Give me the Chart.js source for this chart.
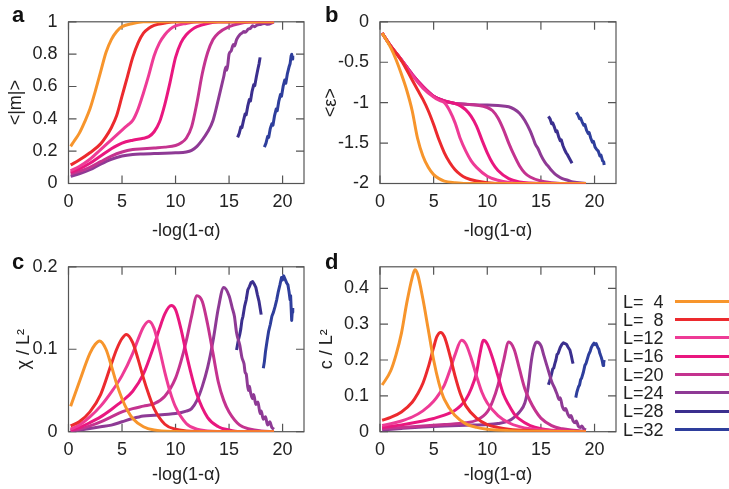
<!DOCTYPE html>
<html>
<head>
<meta charset="utf-8">
<script src="https://cdn.jsdelivr.net/npm/chart.js@4.4.1/dist/chart.umd.min.js"></script>
<style>
  body { margin: 0; background: #fff; width: 729px; height: 489px; overflow: hidden; position: relative;
         font-family: "Liberation Sans", Arial, sans-serif; }
  canvas { position: absolute; }
  .tag { position: absolute; font-weight: bold; font-size: 22px; line-height: 22px; color: #111; }
  .leg { position: absolute; left: 623px; font-size: 18px; line-height: 18px; white-space: pre; color: #222; }
  .legline { position: absolute; left: 675px; width: 60px; height: 3px; }
</style>
</head>
<body>
<canvas id="pa" width="330" height="245" style="left:0;top:0"></canvas>
<canvas id="pb" width="330" height="245" style="left:312px;top:0"></canvas>
<canvas id="pc" width="330" height="244" style="left:0;top:245px"></canvas>
<canvas id="pd" width="330" height="244" style="left:312px;top:245px"></canvas>
<div class="tag" style="left:12px;top:4px">a</div>
<div class="tag" style="left:325px;top:4px">b</div>
<div class="tag" style="left:12px;top:251px">c</div>
<div class="tag" style="left:325px;top:251px">d</div>
<div id="legend"></div>
<script>
// ---- labels / colours ----
const sizes = ['L=  4', 'L=  8', 'L=12', 'L=16', 'L=20', 'L=24', 'L=28', 'L=32'];
const colors = ['#f7952c', '#ec2a2e', '#ee3b96', '#e9177f', '#c4338f', '#8e3a95', '#3b2f8e', '#2e3e9c'];
const xTicks = [0, 5, 10, 15, 20];
const mTicks = [0, 0.2, 0.4, 0.6, 0.8, 1];
const epsTicks = [0, -0.5, -1, -1.5, -2];
const chiTicks = [0, 0.1, 0.2];
const cTicks = [0, 0.1, 0.2, 0.3, 0.4];

// ---- panel a : <|m|> ----
const m4 = [[0.2,.23],[0.5,.26],[1,.31],[1.5,.38],[2,.46],[2.5,.57],[3,.69],[3.5,.81],[4,.89],[4.5,.94],[5,.97],[6,.99],[7,1],[19.2,1]];
const m8 = [[0.2,.115],[1,.145],[2,.19],[3,.245],[3.5,.29],[4,.345],[4.5,.42],[5,.54],[5.5,.66],[6,.78],[6.5,.87],[7,.93],[7.5,.96],[8,.978],[9,.992],[10,1],[19.2,1]];
const m12 = [[0.2,.08],[1,.105],[2,.15],[3,.21],[4,.27],[5,.33],[5.5,.36],[6,.39],[6.5,.46],[7,.56],[7.5,.67],[8,.79],[8.5,.87],[9,.92],[9.5,.955],[10,.975],[11,.99],[12,1],[19.2,1]];
const m16 = [[0.2,.07],[1,.09],[2,.125],[3,.17],[4,.215],[5,.25],[6,.268],[7,.28],[7.5,.29],[8,.32],[8.5,.38],[9,.49],[9.5,.63],[10,.78],[10.5,.87],[11,.92],[11.5,.95],[12,.97],[13,.99],[14,1],[19.2,1]];
const m20 = [[0.2,.06],[1,.075],[2,.10],[3,.135],[4,.17],[5,.195],[6,.21],[7,.215],[8,.22],[9,.225],[10,.235],[10.5,.25],[11,.28],[11.5,.35],[12,.5],[12.5,.68],[13,.81],[13.5,.89],[14,.93],[15,.97],[16,.99],[17,1],[19.2,1]];
const m24 = [[0.2,.045],[1,.06],[2,.085],[3,.12],[4,.15],[5,.17],[6,.18],[7,.183],[8,.185],[9,.187],[10,.19],[11,.195],[11.5,.205],[12,.23],[12.5,.27],[13,.32],[13.5,.39],[14,.52],[14.5,.66],[14.7,.72],[14.8,.70],[15,.8],[15.2,.82],[15.4,.86],[15.5,.85],[15.7,.89],[16,.92],[16.2,.93],[16.4,.94],[16.5,.935],[16.8,.955],[17,.96],[17.2,.975],[17.4,.97],[17.6,.98],[18,.985],[18.3,.99],[18.6,.985],[19.2,1]];
const m28 = [[15.8,.285],[15.95,.31],[16.1,.35],[16.2,.345],[16.35,.39],[16.5,.43],[16.6,.425],[16.75,.48],[16.9,.52],[17.0,.51],[17.15,.57],[17.3,.61],[17.4,.605],[17.55,.66],[17.7,.71],[17.8,.74],[17.9,.78]];
const m32 = [[18.3,.225],[18.45,.25],[18.6,.29],[18.7,.285],[18.85,.34],[19.0,.37],[19.1,.36],[19.25,.42],[19.4,.46],[19.5,.45],[19.65,.51],[19.8,.55],[19.9,.54],[20.05,.6],[20.2,.64],[20.3,.62],[20.45,.68],[20.6,.72],[20.7,.74],[20.8,.79],[20.85,.8],[20.9,.77],[20.95,.79]];

// ---- panel b : <eps> ----
const e4 = [[0.2,-.14],[1,-.32],[1.5,-.47],[2,-.65],[2.5,-.85],[3,-1.1],[3.5,-1.44],[4,-1.66],[4.5,-1.8],[5,-1.89],[5.5,-1.94],[6,-1.97],[7,-1.99],[8,-2],[19.2,-2]];
const e8 = [[0.2,-.14],[1,-.30],[2,-.48],[3,-.72],[3.5,-.84],[4,-.96],[4.5,-1.1],[5,-1.27],[5.5,-1.46],[6,-1.62],[6.5,-1.74],[7,-1.83],[7.5,-1.89],[8,-1.93],[9,-1.97],[10,-1.99],[11,-2],[19.2,-2]];
const e12 = [[0.2,-.14],[1,-.30],[2,-.47],[3,-.66],[4,-.82],[5,-.93],[5.5,-.97],[6,-1.0],[6.5,-1.1],[7,-1.25],[7.5,-1.45],[8,-1.6],[8.5,-1.72],[9,-1.8],[10,-1.91],[11,-1.96],[12,-1.985],[13,-2],[19.2,-2]];
const e16 = [[0.2,-.14],[1,-.30],[2,-.47],[3,-.65],[4,-.80],[5,-.92],[6,-.98],[7,-1.01],[7.5,-1.04],[8,-1.09],[8.5,-1.17],[9,-1.29],[9.5,-1.46],[10,-1.62],[10.5,-1.75],[11,-1.84],[12,-1.94],[13,-1.98],[14,-1.995],[15,-2],[19.2,-2]];
const e20 = [[0.2,-.14],[1,-.30],[2,-.47],[3,-.65],[4,-.80],[5,-.92],[6,-.98],[7,-1.01],[8,-1.02],[9,-1.03],[10,-1.06],[10.5,-1.1],[11,-1.19],[11.5,-1.33],[12,-1.5],[12.5,-1.65],[13,-1.78],[13.5,-1.87],[14,-1.92],[15,-1.97],[16,-1.99],[17,-2],[19.2,-2]];
const e24 = [[0.2,-.14],[1,-.30],[2,-.47],[3,-.65],[4,-.80],[5,-.92],[6,-.98],[7,-1.01],[8,-1.02],[9,-1.03],[10,-1.03],[11,-1.035],[12,-1.05],[12.5,-1.08],[13,-1.13],[13.5,-1.22],[14,-1.35],[14.3,-1.45],[14.5,-1.52],[14.7,-1.56],[15,-1.65],[15.2,-1.7],[15.5,-1.76],[15.7,-1.79],[16,-1.84],[16.3,-1.88],[16.5,-1.9],[17,-1.94],[17.5,-1.96],[18,-1.98],[19.2,-2]];
const e28 = [[15.7,-1.17],[15.85,-1.2],[16.0,-1.26],[16.1,-1.25],[16.25,-1.3],[16.4,-1.36],[16.5,-1.35],[16.65,-1.42],[16.8,-1.47],[16.9,-1.46],[17.05,-1.53],[17.2,-1.58],[17.35,-1.62],[17.5,-1.65],[17.7,-1.7],[17.9,-1.75]];
const e32 = [[18.3,-1.12],[18.45,-1.15],[18.6,-1.2],[18.7,-1.19],[18.85,-1.24],[19.0,-1.28],[19.1,-1.27],[19.25,-1.34],[19.4,-1.38],[19.5,-1.37],[19.65,-1.44],[19.8,-1.49],[19.9,-1.48],[20.05,-1.55],[20.2,-1.58],[20.35,-1.6],[20.5,-1.66],[20.6,-1.65],[20.75,-1.72],[20.85,-1.73],[20.9,-1.77]];

// ---- panel c : chi / L^2 ----
const chi4 = [[0.2,.031],[1,.060],[2,.095],[2.5,.106],[2.9,.110],[3.5,.100],[4,.080],[4.5,.058],[5,.040],[5.5,.026],[6,.016],[7,.006],[8,.002],[10,.0003],[13,0],[19.2,0]];
const chi8 = [[0.2,.007],[1,.012],[2,.024],[3,.045],[4,.082],[4.5,.100],[5,.113],[5.4,.118],[6,.108],[6.5,.088],[7,.065],[7.5,.045],[8,.028],[9,.009],[10,.003],[11,.001],[13,0],[19.2,0]];
const chi12 = [[0.2,.003],[1,.008],[2,.018],[3,.031],[4,.048],[5,.068],[6,.095],[6.5,.112],[7,.127],[7.5,.134],[8,.125],[8.5,.100],[9,.072],[9.5,.048],[10,.030],[11,.010],[12,.003],[13,.001],[15,0],[19.2,0]];
const chi16 = [[0.2,.002],[1,.005],[2,.011],[3,.018],[4,.027],[5,.037],[6,.049],[7,.070],[8,.105],[8.5,.125],[9,.143],[9.6,.153],[10,.148],[10.5,.125],[11,.095],[11.5,.068],[12,.045],[13,.017],[14,.006],[15,.002],[16,0],[19.2,0]];
const chi20 = [[0.2,.001],[1,.003],[2,.007],[3,.012],[4,.018],[5,.024],[6,.028],[7,.031],[8,.034],[9,.043],[10,.065],[10.5,.085],[11,.110],[11.5,.140],[12,.165],[12.5,.158],[13,.130],[13.5,.095],[14,.060],[14.5,.038],[15,.024],[16,.008],[17,.003],[18,.001],[19.2,0]];
const chi24 = [[0.2,.001],[1,.002],[2,.004],[3,.006],[4,.008],[5,.012],[6,.016],[7,.019],[8,.020],[9,.021],[10,.022],[11,.025],[11.5,.028],[12,.038],[12.5,.055],[13,.078],[13.5,.110],[14,.150],[14.5,.175],[15,.165],[15.3,.15],[15.5,.14],[15.7,.12],[16,.105],[16.2,.09],[16.4,.082],[16.5,.072],[16.6,.07],[16.8,.05],[16.9,.055],[17,.048],[17.2,.04],[17.3,.045],[17.5,.033],[17.7,.036],[17.9,.022],[18,.025],[18.2,.015],[18.4,.018],[18.6,.008],[18.8,.012],[19,.005],[19.2,.003]];
const chi28 = [[15.7,.099],[15.85,.11],[16.0,.118],[16.1,.125],[16.2,.135],[16.3,.140],[16.45,.152],[16.6,.160],[16.75,.172],[16.9,.176],[17.05,.181],[17.2,.182],[17.35,.179],[17.5,.175],[17.65,.166],[17.8,.158],[17.9,.15],[18.0,.142]];
const chi32 = [[18.2,.077],[18.3,.085],[18.4,.097],[18.55,.11],[18.7,.122],[18.85,.13],[19.0,.140],[19.15,.145],[19.3,.152],[19.45,.16],[19.6,.170],[19.75,.178],[19.9,.187],[20.0,.184],[20.1,.189],[20.2,.186],[20.3,.183],[20.4,.18],[20.5,.178],[20.6,.17],[20.7,.16],[20.75,.165],[20.85,.135],[20.9,.145],[20.95,.15]];

// ---- panel d : c / L^2 ----
const c4 = [[0.2,.13],[1,.17],[1.5,.215],[2,.275],[2.5,.36],[3,.43],[3.25,.452],[3.5,.44],[4,.37],[4.5,.285],[5,.20],[5.5,.135],[6,.09],[7,.045],[8,.022],[9,.012],[10,.007],[12,.003],[15,.001],[19.2,0]];
const c8 = [[0.2,.032],[1,.040],[2,.055],[3,.082],[3.5,.105],[4,.135],[4.5,.18],[5,.235],[5.3,.265],[5.65,.277],[6,.265],[6.5,.215],[7,.155],[7.5,.105],[8,.072],[9,.038],[10,.020],[11,.012],[12,.007],[14,.003],[19.2,0]];
const c12 = [[0.2,.017],[1,.022],[2,.030],[3,.041],[4,.058],[5,.085],[5.5,.105],[6,.13],[6.5,.17],[7,.215],[7.6,.255],[8,.245],[8.5,.205],[9,.155],[9.5,.11],[10,.08],[11,.045],[12,.025],[13,.014],[14,.008],[16,.003],[19.2,0]];
const c16 = [[0.2,.012],[1,.015],[2,.019],[3,.024],[4,.030],[5,.037],[6,.046],[7,.060],[7.5,.072],[8,.090],[8.5,.12],[9,.165],[9.3,.215],[9.65,.255],[10,.245],[10.5,.205],[11,.155],[11.5,.105],[12,.075],[12.5,.05],[13,.035],[14,.017],[15,.008],[16,.004],[19.2,0]];
const c20 = [[0.2,.008],[2,.012],[4,.016],[6,.020],[8,.025],[9,.032],[10,.055],[10.5,.085],[11,.13],[11.5,.195],[12,.25],[12.5,.23],[13,.175],[13.5,.12],[14,.085],[14.5,.058],[15,.038],[16,.017],[17,.008],[18,.004],[19.2,.001]];
const c24 = [[0.2,.005],[2,.009],[4,.013],[6,.016],[8,.018],[10,.020],[11,.023],[12,.03],[12.5,.04],[13,.055],[13.5,.08],[13.8,.122],[14.1,.196],[14.35,.235],[14.6,.25],[15,.24],[15.3,.21],[15.5,.19],[15.8,.16],[16,.14],[16.3,.12],[16.5,.105],[16.7,.09],[16.8,.095],[17,.07],[17.2,.06],[17.3,.065],[17.5,.05],[17.7,.04],[17.8,.045],[18,.03],[18.2,.025],[18.3,.03],[18.5,.015],[18.7,.012],[18.8,.016],[19,.008],[19.2,.005]];
const c28 = [[15.7,.131],[15.8,.14],[15.9,.15],[16.0,.162],[16.1,.175],[16.2,.178],[16.3,.19],[16.4,.2],[16.5,.215],[16.6,.218],[16.8,.235],[16.95,.243],[17.1,.248],[17.25,.246],[17.4,.243],[17.55,.235],[17.7,.228],[17.85,.21],[17.95,.195],[18.0,.19]];
const c32 = [[18.25,.095],[18.35,.11],[18.5,.125],[18.6,.13],[18.7,.145],[18.8,.15],[18.95,.165],[19.1,.185],[19.2,.19],[19.3,.2],[19.45,.215],[19.6,.225],[19.7,.235],[19.85,.243],[19.95,.247],[20.05,.243],[20.15,.246],[20.3,.235],[20.4,.23],[20.5,.218],[20.6,.21],[20.7,.2],[20.8,.185],[20.85,.192],[20.9,.2]];

// frame + inward ticks on all four sides (gnuplot style)
const framePlugin = {
  id: 'frame',
  beforeDatasetsDraw(chart) {
    const { ctx, chartArea: a, scales } = chart;
    ctx.save();
    ctx.strokeStyle = '#555';
    ctx.lineWidth = 1.2;
    ctx.strokeRect(a.left, a.top, a.right - a.left, a.bottom - a.top);
    ctx.beginPath();
    scales.x.ticks.forEach(t => {
      const p = scales.x.getPixelForValue(t.value);
      ctx.moveTo(p, a.bottom); ctx.lineTo(p, a.bottom - 8);
      ctx.moveTo(p, a.top); ctx.lineTo(p, a.top + 8);
    });
    scales.y.ticks.forEach(t => {
      const p = scales.y.getPixelForValue(t.value);
      ctx.moveTo(a.left, p); ctx.lineTo(a.left + 8, p);
      ctx.moveTo(a.right, p); ctx.lineTo(a.right - 8, p);
    });
    ctx.stroke();
    ctx.restore();
  }
};

const font = { family: '"Liberation Sans", Arial, sans-serif', size: 18 };

function makePanel(id, series, yMin, yMax, yTicks, yTitle, yTitlePad, padTop, yWidth, xHeight) {
  const datasets = series.map((pts, i) => ({
    data: pts.map(p => ({ x: p[0], y: p[1] })),
    borderColor: colors[i],
    borderWidth: 3,
    pointRadius: 0,
    fill: false,
    tension: i < 6 ? 0.4 : 0,
    cubicInterpolationMode: i < 6 ? 'monotone' : 'default',
    borderJoinStyle: 'round'
  }));
  return new Chart(document.getElementById(id), {
    type: 'line',
    data: { datasets },
    options: {
      responsive: false,
      animation: false,
      events: [],
      layout: { padding: { left: 0, top: padTop, right: 26, bottom: 0 } },
      plugins: { legend: { display: false }, tooltip: { enabled: false } },
      scales: {
        x: {
          type: 'linear', min: 0, max: 22,
          afterBuildTicks: s => { s.ticks = xTicks.map(v => ({ value: v })); },
          afterFit: s => { s.height = xHeight; },
          grid: { display: false, drawTicks: false },
          border: { display: false },
          ticks: { font, color: '#222', padding: 8, autoSkip: false, maxRotation: 0, callback: v => String(v) },
          title: { display: true, text: '-log(1-α)', font, color: '#222', padding: { top: 0, bottom: 3 } }
        },
        y: {
          type: 'linear', min: yMin, max: yMax,
          afterBuildTicks: s => { s.ticks = yTicks.map(v => ({ value: v })); },
          afterFit: s => { s.width = yWidth; },
          grid: { display: false, drawTicks: false },
          border: { display: false },
          ticks: { font, color: '#222', padding: 11, autoSkip: false, callback: v => String(v) },
          title: { display: true, text: yTitle, font, color: '#222', padding: { top: yTitlePad, bottom: 0 } }
        }
      }
    },
    plugins: [framePlugin]
  });
}

makePanel('pa', [m4, m8, m12, m16, m20, m24, m28, m32], 0, 1, mTicks, '<|m|>', 5, 16, 68.5, 61.5);
makePanel('pb', [e4, e8, e12, e16, e20, e24, e28, e32], -2, 0, epsTicks, '<ε>', 8, 16, 68, 61.5);
makePanel('pc', [chi4, chi8, chi12, chi16, chi20, chi24, chi28, chi32], 0, 0.2, chiTicks, 'χ / L²', 13, 19, 68.5, 57.3);
makePanel('pd', [c4, c8, c12, c16, c20, c24, c28, c32], 0, 0.46, cTicks, 'c / L²', 4, 19, 68, 57.3);

// legend at the right of panel d
const legend = document.getElementById('legend');
sizes.forEach((s, i) => {
  const cy = 301.3 + i * 18.33;
  const t = document.createElement('div');
  t.className = 'leg';
  t.style.top = (cy - 8.8) + 'px';
  t.textContent = s;
  legend.appendChild(t);
  const l = document.createElement('div');
  l.className = 'legline';
  l.style.top = (cy - 1.5) + 'px';
  l.style.background = colors[i];
  legend.appendChild(l);
});
</script>
</body>
</html>
